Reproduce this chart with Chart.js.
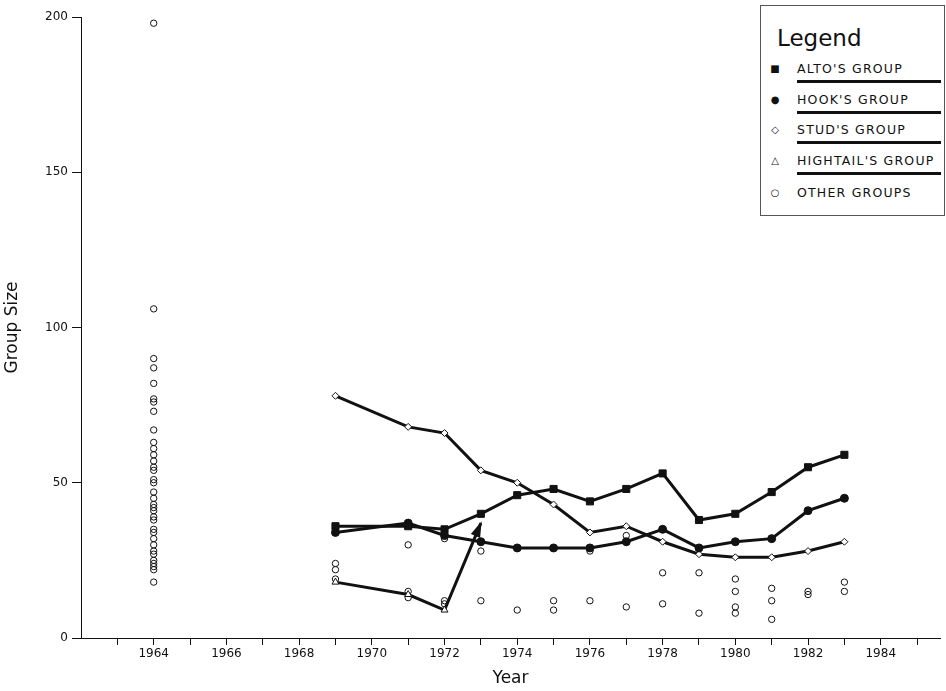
<!DOCTYPE html>
<html>
<head>
<meta charset="utf-8">
<script src="https://cdn.jsdelivr.net/npm/chart.js@4/dist/chart.umd.min.js"></script>
<style>
  body { margin: 0; background: #fff; }
  #wrap { position: relative; width: 946px; height: 691px; }
  #legend {
    position: absolute; left: 760px; top: 5px; width: 183px; height: 209px;
    border: 1px solid #555; background: #fff; font-family: "DejaVu Sans", sans-serif; color: #111;
  }
  #legend .title { position: absolute; left: 16px; top: 19px; font-size: 23px; }
  #legend .row { position: absolute; left: 0; width: 183px; height: 20px; font-size: 12.5px; letter-spacing: 1.2px; }
  #legend .mk { position: absolute; left: 8px; top: 2px; width: 12px; text-align: center; font-size: 10px; color: #111; letter-spacing: 0; }
  #legend .txt { position: absolute; left: 36px; top: 0; }
  #legend .ul { position: absolute; left: 36px; top: 19px; width: 144px; height: 2.5px; background: #111; }
</style>
</head>
<body>
<div id="wrap">
  <canvas id="graph"></canvas>
  <div id="legend">
    <div class="title">Legend</div>
    <div class="row" style="top:55px"><span class="mk">■</span><span class="txt">ALTO'S GROUP</span><div class="ul"></div></div>
    <div class="row" style="top:86px"><span class="mk">●</span><span class="txt">HOOK'S GROUP</span><div class="ul"></div></div>
    <div class="row" style="top:116px"><span class="mk">◇</span><span class="txt">STUD'S GROUP</span><div class="ul"></div></div>
    <div class="row" style="top:147px"><span class="mk">△</span><span class="txt">HIGHTAIL'S GROUP</span><div class="ul"></div></div>
    <div class="row" style="top:179px"><span class="mk">○</span><span class="txt">OTHER GROUPS</span></div>
  </div>
</div>
<script>
// named groups
const groupYears = [1969, 1971, 1972, 1973, 1974, 1975, 1976, 1977, 1978, 1979, 1980, 1981, 1982, 1983]
const altoSizes = [36, 36, 35, 40, 46, 48, 44, 48, 53, 38, 40, 47, 55, 59]
const hookSizes = [34, 37, 33, 31, 29, 29, 29, 31, 35, 29, 31, 32, 41, 45]
const studSizes = [78, 68, 66, 54, 50, 43, 34, 36, 31, 27, 26, 26, 28, 31]

const hightailYears = [1969, 1971, 1972, 1973]
const hightailSizes = [18, 14, 9, 37]

// other groups, one entry per year
const otherYears = [1964, 1969, 1971, 1972, 1973, 1974, 1975, 1976, 1977, 1978, 1979, 1980, 1981, 1982, 1983]
const otherSizes = [
    [198, 106, 90, 87, 82, 77, 76, 73, 67, 63, 61, 59, 57, 55, 54, 51, 50, 47, 45, 43, 42, 41, 39, 38, 35, 34, 32, 30, 28, 27, 25, 24, 23, 22, 18],
    [24, 22, 19],
    [30, 15, 13],
    [32, 12, 11],
    [28, 12],
    [9],
    [12, 9],
    [28, 12],
    [33, 10],
    [21, 11],
    [21, 8],
    [19, 15, 10, 8],
    [16, 12, 6],
    [15, 14],
    [18, 15]
]

const yTicks = [0, 50, 100, 150, 200]

const ink = '#111'
const pts = (xs, ys) => xs.map((x, i) => ({ x: x, y: ys[i] }))
const otherPoints = []
otherYears.forEach((yr, i) => otherSizes[i].forEach(v => otherPoints.push({ x: yr, y: v })))

// arrowhead at the end of Hightail's line (merge into Alto's group)
const arrowPlugin = {
    id: 'arrow',
    afterDatasetsDraw(chart) {
        const meta = chart.getDatasetMeta(3)
        const n = meta.data.length
        const a = meta.data[n - 2], b = meta.data[n - 1]
        const ang = Math.atan2(b.y - a.y, b.x - a.x)
        const ctx = chart.ctx
        ctx.save()
        ctx.translate(b.x, b.y)
        ctx.rotate(ang)
        ctx.fillStyle = ink
        ctx.beginPath()
        ctx.moveTo(2, 0)
        ctx.lineTo(-14, -5)
        ctx.lineTo(-14, 5)
        ctx.closePath()
        ctx.fill()
        ctx.restore()
    }
}

const axisFont = { family: 'DejaVu Sans', size: 12 }
const titleFont = { family: 'DejaVu Sans', size: 17 }

const myChart = new Chart(
    document.getElementById('graph'), {
        type: 'scatter',
        data: {
            datasets: [{
                label: "ALTO'S GROUP",
                data: pts(groupYears, altoSizes),
                showLine: true,
                borderColor: ink,
                backgroundColor: ink,
                borderWidth: 3,
                pointStyle: 'rect',
                pointRadius: 5,
                pointBorderWidth: 1,
            }, {
                label: "HOOK'S GROUP",
                data: pts(groupYears, hookSizes),
                showLine: true,
                borderColor: ink,
                backgroundColor: ink,
                borderWidth: 3,
                pointStyle: 'circle',
                pointRadius: 4,
                pointBorderWidth: 1,
            }, {
                label: "STUD'S GROUP",
                data: pts(groupYears, studSizes),
                showLine: true,
                borderColor: ink,
                backgroundColor: '#fff',
                borderWidth: 3,
                pointStyle: 'rectRot',
                pointRadius: 3.5,
                pointBorderWidth: 1,
            }, {
                label: "HIGHTAIL'S GROUP",
                data: pts(hightailYears, hightailSizes),
                showLine: true,
                borderColor: ink,
                backgroundColor: '#fff',
                borderWidth: 3,
                pointStyle: 'triangle',
                pointRadius: [4, 4, 4, 0],
                pointBorderWidth: 1,
            }, {
                label: 'OTHER GROUPS',
                data: otherPoints,
                showLine: false,
                borderColor: ink,
                backgroundColor: 'rgba(255,255,255,0)',
                pointStyle: 'circle',
                pointRadius: 3.2,
                pointBorderWidth: 1,
            }]
        },
        options: {
            responsive: true,
            maintainAspectRatio: false,
            animation: false,
            layout: { padding: { top: 17, right: 0, left: 0, bottom: 0 } },
            plugins: {
                legend: { display: false },
                tooltip: { enabled: false }
            },
            scales: {
                x: {
                    type: 'linear',
                    min: 1962,
                    max: 1985.63,
                    afterFit: s => { s.height = 53 },
                    afterBuildTicks: s => {
                        s.ticks = s.ticks.filter(t => Number.isInteger(t.value) && t.value >= 1963 && t.value <= 1985)
                    },
                    ticks: {
                        stepSize: 1,
                        autoSkip: false,
                        maxRotation: 0,
                        includeBounds: false,
                        color: ink,
                        font: axisFont,
                        padding: 2,
                        callback: v => (v % 2 === 0 && v >= 1964 && v <= 1984) ? String(v) : ''
                    },
                    grid: { drawOnChartArea: false, tickLength: 7, color: ink },
                    border: { color: ink, width: 1 },
                    title: { display: true, text: 'Year', color: ink, font: titleFont, padding: { top: 0, bottom: 2 } }
                },
                y: {
                    min: 0,
                    max: 200,
                    afterFit: s => { s.width = 81 },
                    afterBuildTicks: s => { s.ticks = yTicks.map(v => ({ value: v })) },
                    ticks: { color: ink, font: axisFont, padding: 4 },
                    grid: { drawOnChartArea: false, tickLength: 9, color: ink },
                    border: { color: ink, width: 1 },
                    title: { display: true, text: 'Group Size', color: ink, font: titleFont, padding: { top: 2, bottom: 0 } }
                }
            }
        },
        plugins: [arrowPlugin]
    }
);
</script>
</body>
</html>
